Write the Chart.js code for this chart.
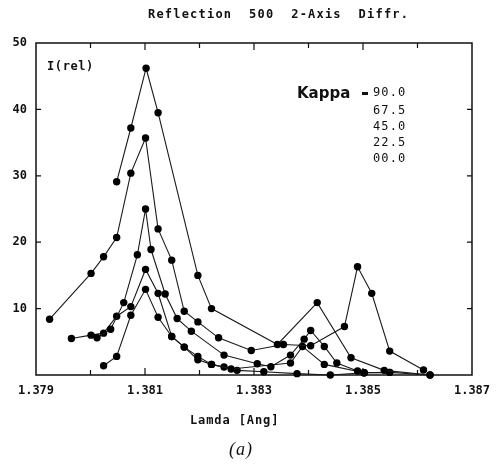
<!DOCTYPE html>
<html>
<head>
<meta charset="utf-8">
<script src="https://cdn.jsdelivr.net/npm/chart.js@4.4.1/dist/chart.umd.min.js"></script>
<style>
  html, body { margin: 0; padding: 0; background: #fff; }
</style>
</head>
<body>
<canvas id="chart" width="501" height="469"></canvas>
<script>
const kappaValues = ["90.0", "67.5", "45.0", "22.5", "00.0"];
const xTickLabels = ["1.379", "1.381", "1.383", "1.385", "1.387"];
const yTickLabels = ["10", "20", "30", "40", "50"];

// Lamda [Ang] / I(rel) per curve
const lamda90 = [1.38048, 1.38074, 1.38102, 1.38124, 1.38197, 1.38222, 1.38343, 1.38416, 1.38478, 1.38539, 1.38623];
const intens90 = [29.1, 37.2, 46.2, 39.5, 15.0, 10.0, 4.6, 10.9, 2.6, 0.7, 0.0];

const lamda675 = [1.37925, 1.38001, 1.38024, 1.38048, 1.38074, 1.38101, 1.38124, 1.38149, 1.38172, 1.38197,
  1.38235, 1.38295, 1.38354, 1.38404, 1.38466, 1.3849, 1.38516, 1.38549, 1.38611];
const intens675 = [8.4, 15.3, 17.8, 20.7, 30.4, 35.7, 22.0, 17.3, 9.6, 8.0,
  5.6, 3.7, 4.6, 4.4, 7.3, 16.3, 12.3, 3.6, 0.75];

const lamda45 = [1.38012, 1.38037, 1.38061, 1.38086, 1.38101, 1.38111, 1.38137, 1.38159, 1.38185, 1.38245,
  1.38306, 1.38331, 1.38367, 1.38392, 1.38404, 1.38429, 1.38452, 1.3849, 1.38502];
const intens45 = [5.6, 6.9, 10.9, 18.1, 25.0, 18.9, 12.2, 8.5, 6.6, 3.0,
  1.7, 1.25, 3.0, 5.4, 6.7, 4.3, 1.8, 0.6, 0.35];

const lamda225 = [1.37965, 1.38001, 1.38024, 1.38048, 1.38074, 1.38101, 1.38124, 1.38149, 1.38172, 1.38197,
  1.38222, 1.38258, 1.38367, 1.38389, 1.38429, 1.38502, 1.38549];
const intens225 = [5.5, 6.0, 6.3, 8.85, 10.3, 15.9, 12.3, 5.8, 4.2, 2.8,
  1.6, 0.9, 1.8, 4.3, 1.6, 0.35, 0.4];

const lamda00 = [1.38024, 1.38048, 1.38074, 1.38101, 1.38124, 1.38149, 1.38172, 1.38197, 1.38222, 1.38245,
  1.38269, 1.38318, 1.38379, 1.3844, 1.38502, 1.38549, 1.38623];
const intens00 = [1.4, 2.8, 9.0, 12.9, 8.7, 5.8, 4.2, 2.3, 1.6, 1.2,
  0.7, 0.5, 0.2, 0.0, 0.35, 0.4, 0.0];

const series = [
  [lamda90, intens90],
  [lamda675, intens675],
  [lamda45, intens45],
  [lamda225, intens225],
  [lamda00, intens00],
];

const MONO = "'DejaVu Sans Mono', monospace";

function toPoints(xs, ys) {
  return xs.map((x, i) => ({ x, y: ys[i] }));
}

function spacedText(ctx, text, x, y, spacing, align) {
  if ("letterSpacing" in ctx) {
    ctx.letterSpacing = spacing + "px";
  }
  ctx.textAlign = align || "left";
  ctx.fillText(text, x, y);
  if ("letterSpacing" in ctx) {
    ctx.letterSpacing = "0px";
  }
}

const framePlugin = {
  id: "frame",
  beforeDatasetsDraw(chart) {
    const { ctx, chartArea: a, scales } = chart;
    ctx.save();
    ctx.strokeStyle = "#111";
    ctx.lineWidth = 1.5;
    ctx.strokeRect(a.left, a.top, a.right - a.left, a.bottom - a.top);
    ctx.lineWidth = 1.2;
    ctx.beginPath();
    for (let k = 1380; k <= 1386; k++) {
      const px = scales.x.getPixelForValue(k / 1000);
      const len = k % 2 === 1 ? 7 : 5;
      ctx.moveTo(px, a.bottom);
      ctx.lineTo(px, a.bottom - len);
      ctx.moveTo(px, a.top);
      ctx.lineTo(px, a.top + len);
    }
    for (let v = 10; v <= 40; v += 10) {
      const py = scales.y.getPixelForValue(v);
      ctx.moveTo(a.left, py);
      ctx.lineTo(a.left + 5, py);
      ctx.moveTo(a.right, py);
      ctx.lineTo(a.right - 5, py);
    }
    ctx.stroke();
    ctx.restore();
  },
  afterDraw(chart) {
    const { ctx } = chart;
    ctx.save();
    ctx.fillStyle = "#111";
    ctx.textBaseline = "middle";

    ctx.font = "bold 12px " + MONO;
    spacedText(ctx, "Reflection  500  2-Axis  Diffr.", 148, 15, 1.2, "left");

    spacedText(ctx, "I(rel)", 47, 67, 0.6, "left");

    ctx.font = "bold 15px 'DejaVu Sans', sans-serif";
    spacedText(ctx, "Kappa", 297, 94, 0, "left");
    ctx.fillRect(362, 92, 6, 3);

    ctx.font = "12px " + MONO;
    const rowY = [93, 111, 127, 143, 159];
    kappaValues.forEach((k, i) => spacedText(ctx, k, 373, rowY[i], 1.1, "left"));

    ctx.font = "bold 12px " + MONO;
    spacedText(ctx, "Lamda [Ang]", 190, 421, 0.9, "left");

    ctx.font = "italic 18px 'Liberation Serif', serif";
    spacedText(ctx, "(a)", 241, 450, 1, "center");
    ctx.restore();
  },
};

new Chart(document.getElementById("chart"), {
  type: "line",
  data: {
    datasets: series.map(([xs, ys], i) => ({
      label: "Kappa " + kappaValues[i],
      data: toPoints(xs, ys),
      borderColor: "#1a1a1a",
      borderWidth: 1.1,
      pointRadius: 3.7,
      pointBackgroundColor: "#000",
      pointBorderWidth: 0,
      tension: 0,
      clip: false,
    })),
  },
  options: {
    responsive: false,
    animation: false,
    devicePixelRatio: 1,
    layout: { padding: { left: 4, top: 43, right: 29, bottom: 72 } },
    plugins: {
      legend: { display: false },
      tooltip: { enabled: false },
    },
    scales: {
      x: {
        type: "linear",
        min: 1.379,
        max: 1.387,
        grid: { display: false, drawTicks: false },
        border: { display: false },
        ticks: {
          stepSize: 0.001,
          autoSkip: false,
          maxRotation: 0,
          padding: 9,
          color: "#111",
          font: { family: MONO, size: 12, weight: "bold" },
          callback: (v) => (xTickLabels.includes(v.toFixed(3)) ? v.toFixed(3) : ""),
        },
        afterFit: (s) => { s.height = 22; },
      },
      y: {
        min: 0,
        max: 50,
        grid: { display: false, drawTicks: false },
        border: { display: false },
        ticks: {
          stepSize: 10,
          padding: 9,
          color: "#111",
          font: { family: MONO, size: 12, weight: "bold" },
          callback: (v) => (yTickLabels.includes(String(v)) ? String(v) : ""),
        },
        afterFit: (s) => { s.width = 32; },
      },
    },
  },
  plugins: [framePlugin],
});
</script>
</body>
</html>
